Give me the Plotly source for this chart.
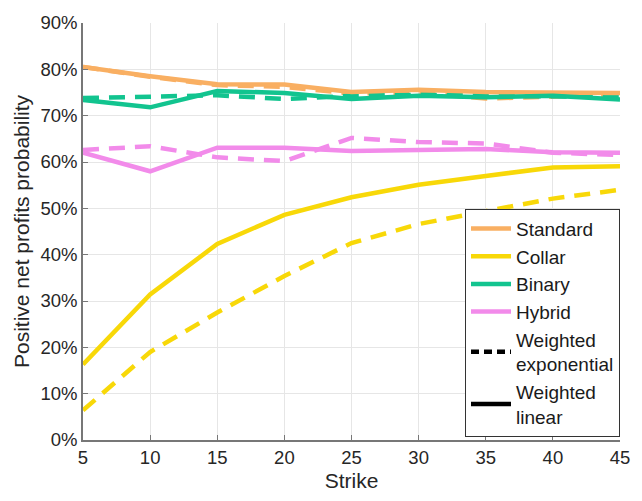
import plotly.graph_objects as go

strike = [5, 10, 15, 20, 25, 30, 35, 40, 45]
y_ticks = [0, 10, 20, 30, 40, 50, 60, 70, 80, 90]

standard_lin = [80.5, 78.5, 76.8, 76.7, 75.1, 75.6, 75.1, 75.0, 74.9]
standard_exp = [80.5, 78.4, 76.6, 76.2, 74.8, 75.0, 73.7, 74.0, 74.5]
collar_lin = [16.3, 31.4, 42.3, 48.6, 52.4, 55.1, 57.0, 58.8, 59.1]
collar_exp = [6.4, 19.0, 27.5, 35.4, 42.5, 46.6, 49.4, 52.1, 54.0]
binary_lin = [73.4, 71.8, 75.3, 74.9, 73.6, 74.3, 74.0, 74.3, 73.5]
binary_exp = [73.8, 74.2, 74.4, 73.6, 74.3, 74.5, 74.3, 74.1, 74.0]
hybrid_lin = [62.0, 58.0, 63.1, 63.1, 62.4, 62.7, 62.8, 62.1, 62.0]
hybrid_exp = [62.6, 63.4, 61.0, 60.2, 65.2, 64.3, 64.0, 62.0, 61.5]

names = ["Standard", "Collar", "Binary", "Hybrid"]
colors = ["#F9AF62", "#F8D808", "#12C48F", "#F28BEA"]
lin = [standard_lin, collar_lin, binary_lin, hybrid_lin]
exp = [standard_exp, collar_exp, binary_exp, hybrid_exp]

fig = go.Figure()
W = 4.5
DASH = "16px,10px"
for i in range(4):
    fig.add_trace(go.Scatter(x=strike, y=exp[i], mode="lines",
                             line=dict(color=colors[i], width=W, dash=DASH),
                             showlegend=False, hoverinfo="skip"))
for i in range(4):
    fig.add_trace(go.Scatter(x=strike, y=lin[i], mode="lines",
                             line=dict(color=colors[i], width=W),
                             showlegend=False, hoverinfo="skip"))

for i in range(4):
    fig.add_trace(go.Scatter(x=[None], y=[None], mode="lines", name=names[i],
                             line=dict(color=colors[i], width=W)))
fig.add_trace(go.Scatter(x=[None], y=[None], mode="lines",
                         name="Weighted<br>exponential",
                         line=dict(color="black", width=W, dash="8px,5px")))
fig.add_trace(go.Scatter(x=[None], y=[None], mode="lines",
                         name="Weighted<br>linear",
                         line=dict(color="black", width=W)))

font = "Liberation Sans, Arial, sans-serif"
fig.update_layout(
    width=642, height=501,
    margin=dict(l=83, r=13, t=16, b=60),
    paper_bgcolor="white", plot_bgcolor="white",
    font=dict(family=font, size=18, color="#262626"),
    showlegend=True,
    legend=dict(x=1, xanchor="right", y=0.008, yanchor="bottom",
                bgcolor="white", bordercolor="#333333", borderwidth=1,
                font=dict(family=font, size=19, color="#1a1a1a"),
                tracegroupgap=0, itemwidth=40),
    xaxis=dict(range=[5, 45], tickvals=strike, ticks="inside", ticklen=5,
               tickcolor="#777777", showgrid=True, gridcolor="#E6E6E6",
               showline=True, linecolor="#777777", linewidth=1.5,
               zeroline=False,
               title=dict(text="Strike", font=dict(size=21), standoff=6),
               tickfont=dict(size=18.5)),
    yaxis=dict(range=[0, 90], tickvals=y_ticks,
               ticktext=[f"{v}%" for v in y_ticks],
               ticks="inside", ticklen=5, tickcolor="#777777",
               showgrid=True, gridcolor="#E6E6E6",
               showline=True, linecolor="#777777", linewidth=1.5,
               zeroline=False,
               title=dict(text="Positive net profits probability",
                          font=dict(size=21), standoff=5),
               tickfont=dict(size=18.5)),
)
fig.write_html("out.html", config={"displayModeBar": False},
               post_script="document.body.style.margin='0';document.body.style.padding='0';")
